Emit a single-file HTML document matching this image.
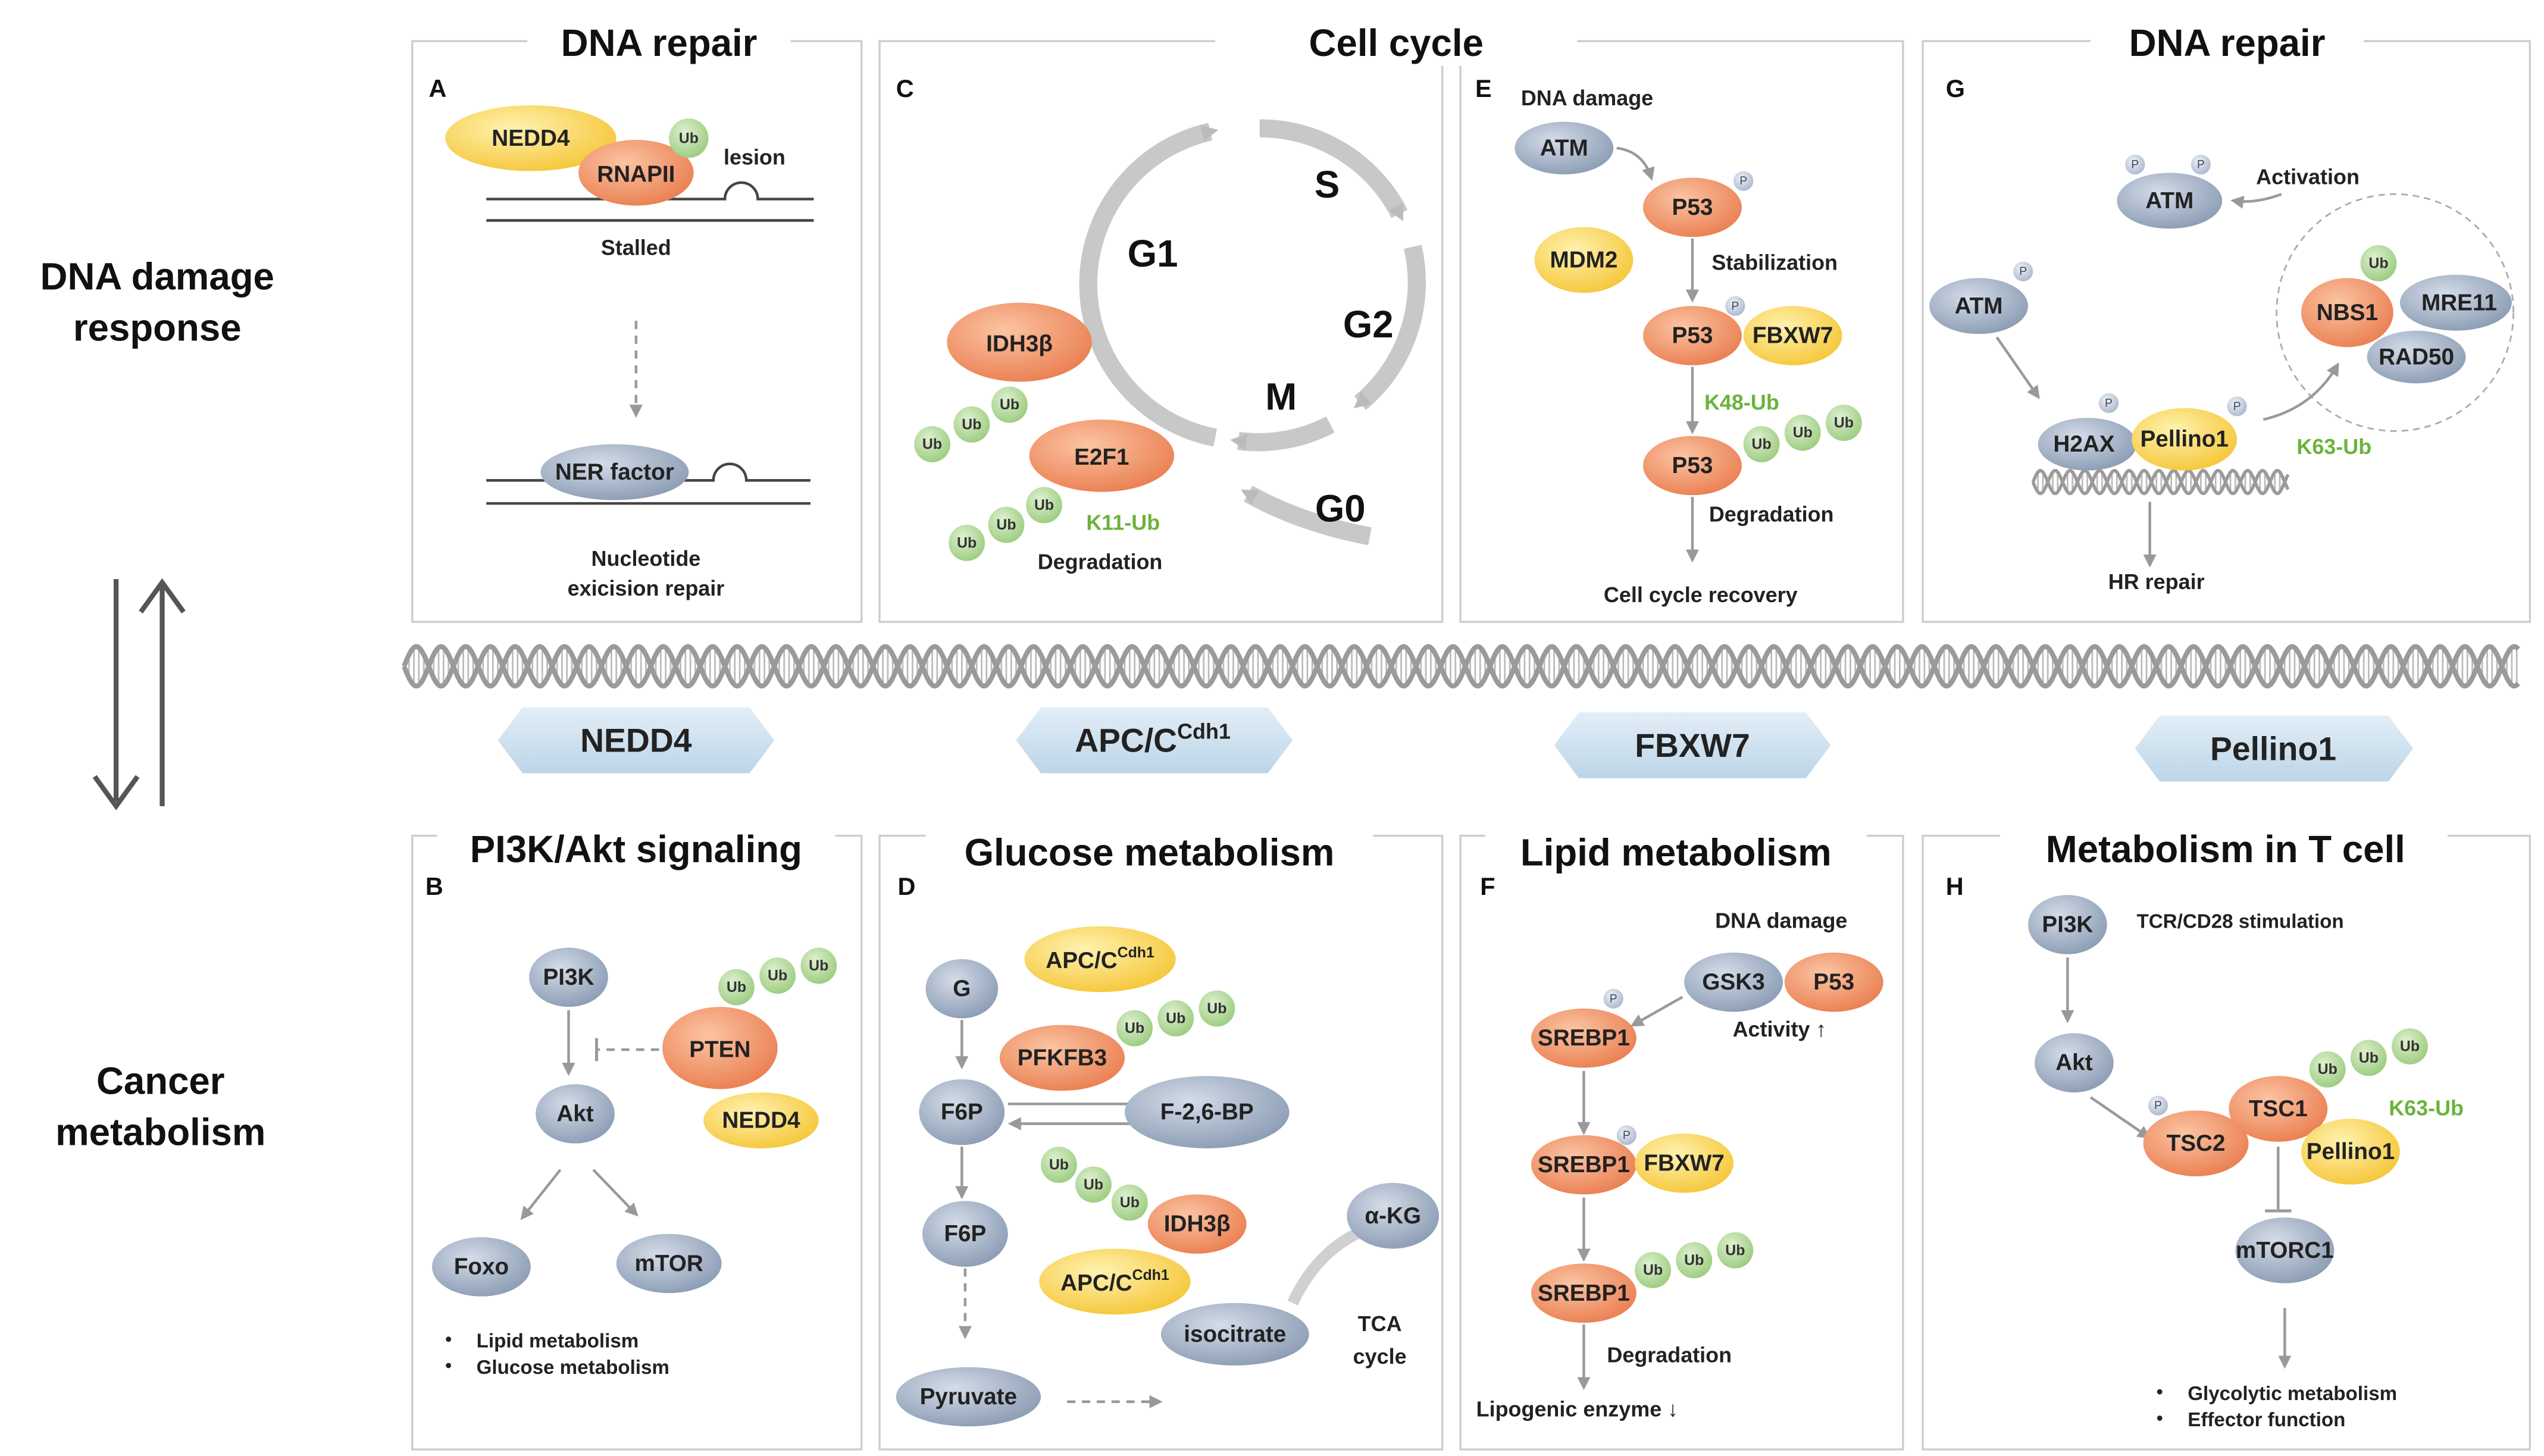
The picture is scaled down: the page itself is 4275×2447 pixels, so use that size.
<!DOCTYPE html>
<html><head><meta charset="utf-8">
<style>
html,body{margin:0;padding:0;background:#fff;}
svg{display:block;}
text{font-family:"Liberation Sans","DejaVu Sans",sans-serif;}
.t{font-size:23px;font-weight:bold;fill:#111;text-anchor:middle;}
.L{font-size:15px;font-weight:bold;fill:#111;}
.n{font-size:14px;font-weight:bold;fill:#222;text-anchor:middle;dominant-baseline:central;}
.s{font-size:13px;font-weight:bold;fill:#222;text-anchor:middle;}
.st{font-size:12px;font-weight:bold;fill:#222;text-anchor:start;}
.u{font-size:9px;font-weight:bold;fill:#333;text-anchor:middle;dominant-baseline:central;}
.g{font-size:13px;font-weight:bold;fill:#6bb33c;text-anchor:middle;}
.p{font-size:7px;fill:#445;text-anchor:middle;dominant-baseline:central;}
.box{fill:#fff;stroke:#ccc;stroke-width:1.2;}
.ar{stroke:#999;stroke-width:1.6;fill:none;marker-end:url(#ah);}
.da{stroke:#999;stroke-width:1.6;fill:none;stroke-dasharray:5 4;marker-end:url(#ah);}
</style></head><body>
<svg width="4275" height="2447" viewBox="0 0 1545 885" xmlns="http://www.w3.org/2000/svg">
<defs>
<radialGradient id="gb" cx="40%" cy="35%" r="70%"><stop offset="0" stop-color="#d4dce8"/><stop offset="1" stop-color="#8a9bb3"/></radialGradient>
<radialGradient id="go" cx="40%" cy="35%" r="70%"><stop offset="0" stop-color="#fbc4a3"/><stop offset="1" stop-color="#ea7e50"/></radialGradient>
<radialGradient id="gy" cx="40%" cy="35%" r="70%"><stop offset="0" stop-color="#fff2b0"/><stop offset="1" stop-color="#f5c637"/></radialGradient>
<radialGradient id="gg" cx="40%" cy="35%" r="70%"><stop offset="0" stop-color="#dff0d0"/><stop offset="1" stop-color="#9acb7d"/></radialGradient>
<radialGradient id="gp" cx="40%" cy="35%" r="70%"><stop offset="0" stop-color="#eef2f8"/><stop offset="1" stop-color="#a9b6cc"/></radialGradient>
<linearGradient id="hx" x1="0" y1="0" x2="0" y2="1"><stop offset="0" stop-color="#e3eef7"/><stop offset="1" stop-color="#bcd5e8"/></linearGradient>
<marker id="ah" markerWidth="8" markerHeight="8" refX="6" refY="4" orient="auto" markerUnits="userSpaceOnUse"><path d="M0,0 L8,4 L0,8 z" fill="#999"/></marker>
<marker id="bh" markerWidth="10" markerHeight="10" refX="5" refY="5" orient="auto" markerUnits="userSpaceOnUse"><path d="M0,0 L10,5 L0,10 z" fill="#bbb"/></marker>
</defs>

<text class="t" x="95" y="176">DNA damage</text>
<text class="t" x="95" y="207">response</text>
<text class="t" x="97" y="665">Cancer</text>
<text class="t" x="97" y="696">metabolism</text>
<line x1="70" y1="352" x2="70" y2="487" stroke="#555" stroke-width="3"/>
<path d="M57,472 L70,490 L83,472" stroke="#555" stroke-width="3" fill="none"/>
<line x1="98" y1="355" x2="98" y2="490" stroke="#555" stroke-width="3"/>
<path d="M85,372 L98,354 L111,372" stroke="#555" stroke-width="3" fill="none"/>

<rect class="box" x="250" y="25" width="273" height="353"/>
<rect class="box" x="534" y="25" width="342" height="353"/>
<rect class="box" x="887" y="25" width="269" height="353"/>
<rect class="box" x="1168" y="25" width="369" height="353"/>
<rect class="box" x="250" y="508" width="273" height="373"/>
<rect class="box" x="534" y="508" width="342" height="373"/>
<rect class="box" x="887" y="508" width="269" height="373"/>
<rect class="box" x="1168" y="508" width="369" height="373"/>
<rect x="320" y="8" width="160" height="32" fill="#fff"/>
<rect x="738" y="8" width="220" height="32" fill="#fff"/>
<rect x="1270" y="8" width="166" height="32" fill="#fff"/>
<rect x="265" y="498" width="242" height="32" fill="#fff"/>
<rect x="562" y="500" width="272" height="32" fill="#fff"/>
<rect x="902" y="500" width="232" height="32" fill="#fff"/>
<rect x="1215" y="498" width="272" height="32" fill="#fff"/>
<text class="t" x="400" y="34">DNA repair</text>
<text class="t" x="848" y="34">Cell cycle</text>
<text class="t" x="1353" y="34">DNA repair</text>
<text class="t" x="386" y="524">PI3K/Akt signaling</text>
<text class="t" x="698" y="526">Glucose metabolism</text>
<text class="t" x="1018" y="526">Lipid metabolism</text>
<text class="t" x="1352" y="524">Metabolism in T cell</text>
<text class="L" x="260" y="59">A</text><text class="L" x="544" y="59">C</text>
<text class="L" x="896" y="59">E</text><text class="L" x="1182" y="59">G</text>
<text class="L" x="258" y="544">B</text><text class="L" x="545" y="544">D</text>
<text class="L" x="899" y="544">F</text><text class="L" x="1182" y="544">H</text>

<g id="helix"></g>

<g font-weight="bold" font-size="20">
<polygon points="302,450 317,430 455,430 470,450 455,470 317,470" fill="url(#hx)"/>
<text x="386" y="457" text-anchor="middle" fill="#222">NEDD4</text>
<polygon points="617,450 632,430 770,430 785,450 770,470 632,470" fill="url(#hx)"/>
<text x="700" y="457" text-anchor="middle" fill="#222">APC/C<tspan font-size="13" dy="-8">Cdh1</tspan></text>
<polygon points="944,453 959,433 1097,433 1112,453 1097,473 959,473" fill="url(#hx)"/>
<text x="1028" y="460" text-anchor="middle" fill="#222">FBXW7</text>
<polygon points="1297,455 1312,435 1451,435 1466,455 1451,475 1312,475" fill="url(#hx)"/>
<text x="1381" y="462" text-anchor="middle" fill="#222">Pellino1</text>
</g>

<!-- Panel A -->
<path d="M295,121 L440,121 A10,10 0 0 1 460,121 L494,121" stroke="#444" stroke-width="1.6" fill="none"/>
<line x1="295" y1="134" x2="494" y2="134" stroke="#444" stroke-width="1.6"/>
<ellipse cx="322" cy="84" rx="52" ry="20" fill="url(#gy)"/><text class="n" x="322" y="84" font-size="15">NEDD4</text>
<ellipse cx="386" cy="105" rx="35" ry="20" fill="url(#go)"/><text class="n" x="386" y="106" font-size="13">RNAPII</text>
<circle cx="418" cy="84" r="12" fill="url(#gg)"/><text class="u" x="418" y="84">Ub</text>
<text class="s" x="458" y="100">lesion</text>
<text class="s" x="386" y="155">Stalled</text>
<line class="da" x1="386" y1="195" x2="386" y2="252"/>
<path d="M295,292 L433,292 A10,10 0 0 1 453,292 L492,292" stroke="#444" stroke-width="1.6" fill="none"/>
<line x1="295" y1="306" x2="492" y2="306" stroke="#444" stroke-width="1.6"/>
<ellipse cx="373" cy="287" rx="45" ry="17" fill="url(#gb)"/><text class="n" x="373" y="287">NER factor</text>
<text class="s" x="392" y="344" font-size="14">Nucleotide</text>
<text class="s" x="392" y="362" font-size="14">exicision repair</text>

<!-- Panel C -->
<g stroke="#c8c8c8" stroke-width="11" fill="none">
<path d="M738,266 A95,95 0 0 1 735,80" marker-end="url(#bh)"/>
<path d="M765,78 A95,95 0 0 1 850,130" marker-end="url(#bh)"/>
<path d="M858,150 A95,95 0 0 1 826,245" marker-end="url(#bh)"/>
<path d="M808,258 A95,95 0 0 1 752,268" marker-end="url(#bh)"/>
<path d="M832,326 Q790,318 758,300" marker-end="url(#bh)"/>
</g>
<text class="t" x="700" y="162" font-size="17">G1</text>
<text class="t" x="806" y="120" font-size="17">S</text>
<text class="t" x="831" y="205" font-size="17">G2</text>
<text class="t" x="778" y="249" font-size="17">M</text>
<text class="t" x="814" y="317" font-size="17">G0</text>
<ellipse cx="619" cy="208" rx="44" ry="24" fill="url(#go)"/><text class="n" x="619" y="209" font-size="16">IDH3β</text>
<ellipse cx="669" cy="277" rx="44" ry="22" fill="url(#go)"/><text class="n" x="669" y="278" font-size="15">E2F1</text>
<circle cx="566" cy="270" r="11" fill="url(#gg)"/><text class="u" x="566" y="270">Ub</text>
<circle cx="590" cy="258" r="11" fill="url(#gg)"/><text class="u" x="590" y="258">Ub</text>
<circle cx="613" cy="246" r="11" fill="url(#gg)"/><text class="u" x="613" y="246">Ub</text>
<circle cx="587" cy="330" r="11" fill="url(#gg)"/><text class="u" x="587" y="330">Ub</text>
<circle cx="611" cy="319" r="11" fill="url(#gg)"/><text class="u" x="611" y="319">Ub</text>
<circle cx="634" cy="307" r="11" fill="url(#gg)"/><text class="u" x="634" y="307">Ub</text>
<text class="g" x="682" y="322">K11-Ub</text>
<text class="s" x="668" y="346">Degradation</text>

<!-- Panel E -->
<text class="s" x="964" y="64">DNA damage</text>
<ellipse cx="950" cy="90" rx="30" ry="16" fill="url(#gb)"/><text class="n" x="950" y="90" font-size="13">ATM</text>
<path class="ar" d="M982,90 Q998,92 1003,108"/>
<ellipse cx="1028" cy="126" rx="30" ry="18" fill="url(#go)"/><text class="n" x="1028" y="126" font-size="13">P53</text>
<circle cx="1059" cy="110" r="6" fill="url(#gp)"/><text class="p" x="1059" y="110">P</text>
<ellipse cx="962" cy="158" rx="30" ry="20" fill="url(#gy)"/><text class="n" x="962" y="158" font-size="13">MDM2</text>
<line class="ar" x1="1028" y1="145" x2="1028" y2="182"/>
<text class="s" x="1078" y="164">Stabilization</text>
<ellipse cx="1028" cy="204" rx="30" ry="18" fill="url(#go)"/><text class="n" x="1028" y="204" font-size="13">P53</text>
<circle cx="1054" cy="186" r="6" fill="url(#gp)"/><text class="p" x="1054" y="186">P</text>
<ellipse cx="1089" cy="204" rx="30" ry="18" fill="url(#gy)"/><text class="n" x="1089" y="204" font-size="13">FBXW7</text>
<line class="ar" x1="1028" y1="223" x2="1028" y2="262"/>
<text class="g" x="1058" y="249">K48-Ub</text>
<ellipse cx="1028" cy="283" rx="30" ry="18" fill="url(#go)"/><text class="n" x="1028" y="283" font-size="13">P53</text>
<circle cx="1070" cy="270" r="11" fill="url(#gg)"/><text class="u" x="1070" y="270">Ub</text>
<circle cx="1095" cy="263" r="11" fill="url(#gg)"/><text class="u" x="1095" y="263">Ub</text>
<circle cx="1120" cy="257" r="11" fill="url(#gg)"/><text class="u" x="1120" y="257">Ub</text>
<text class="s" x="1076" y="317">Degradation</text>
<line class="ar" x1="1028" y1="302" x2="1028" y2="340"/>
<text class="s" x="1033" y="366">Cell cycle recovery</text>

<!-- Panel G -->
<ellipse cx="1318" cy="122" rx="32" ry="17" fill="url(#gb)"/><text class="n" x="1318" y="122" font-size="13">ATM</text>
<circle cx="1297" cy="100" r="6" fill="url(#gp)"/><text class="p" x="1297" y="100">P</text>
<circle cx="1337" cy="100" r="6" fill="url(#gp)"/><text class="p" x="1337" y="100">P</text>
<text class="s" x="1402" y="112">Activation</text>
<path class="ar" d="M1386,118 Q1370,124 1357,122"/>
<circle cx="1455" cy="190" r="72" fill="none" stroke="#aaa" stroke-dasharray="4 3"/>
<circle cx="1445" cy="160" r="11" fill="url(#gg)"/><text class="u" x="1445" y="160">Ub</text>
<ellipse cx="1492" cy="184" rx="34" ry="17" fill="url(#gb)"/><text class="n" x="1494" y="184" font-size="12">MRE11</text>
<ellipse cx="1468" cy="217" rx="30" ry="16" fill="url(#gb)"/><text class="n" x="1468" y="217" font-size="12">RAD50</text>
<ellipse cx="1426" cy="190" rx="28" ry="21" fill="url(#go)"/><text class="n" x="1426" y="190" font-size="13">NBS1</text>
<ellipse cx="1202" cy="186" rx="30" ry="17" fill="url(#gb)"/><text class="n" x="1202" y="186" font-size="13">ATM</text>
<circle cx="1229" cy="165" r="6" fill="url(#gp)"/><text class="p" x="1229" y="165">P</text>
<line class="ar" x1="1213" y1="205" x2="1238" y2="241"/>
<g id="helix2"></g>
<ellipse cx="1268" cy="270" rx="30" ry="16" fill="url(#gb)"/><text class="n" x="1266" y="270" font-size="12">H2AX</text>
<circle cx="1281" cy="245" r="6" fill="url(#gp)"/><text class="p" x="1281" y="245">P</text>
<ellipse cx="1327" cy="267" rx="32" ry="19" fill="url(#gy)"/><text class="n" x="1327" y="267" font-size="13">Pellino1</text>
<circle cx="1359" cy="247" r="6" fill="url(#gp)"/><text class="p" x="1359" y="247">P</text>
<path class="ar" d="M1375,255 Q1405,248 1420,222"/>
<text class="g" x="1418" y="276">K63-Ub</text>
<line class="ar" x1="1306" y1="305" x2="1306" y2="343"/>
<text class="s" x="1310" y="358">HR repair</text>

<!-- Panel B -->
<ellipse cx="345" cy="594" rx="24" ry="18" fill="url(#gb)"/><text class="n" x="345" y="594" font-size="13">PI3K</text>
<line class="ar" x1="345" y1="614" x2="345" y2="652"/>
<ellipse cx="349" cy="677" rx="24" ry="18" fill="url(#gb)"/><text class="n" x="349" y="677" font-size="13">Akt</text>
<line x1="400" y1="638" x2="363" y2="638" stroke="#999" stroke-width="1.6" stroke-dasharray="5 4"/>
<line x1="362" y1="631" x2="362" y2="645" stroke="#999" stroke-width="1.8"/>
<circle cx="447" cy="600" r="11" fill="url(#gg)"/><text class="u" x="447" y="600">Ub</text>
<circle cx="472" cy="593" r="11" fill="url(#gg)"/><text class="u" x="472" y="593">Ub</text>
<circle cx="497" cy="587" r="11" fill="url(#gg)"/><text class="u" x="497" y="587">Ub</text>
<ellipse cx="462" cy="681" rx="35" ry="17" fill="url(#gy)"/><text class="n" x="462" y="681" font-size="13">NEDD4</text>
<ellipse cx="437" cy="637" rx="35" ry="25" fill="url(#go)"/><text class="n" x="437" y="638" font-size="15">PTEN</text>
<line class="ar" x1="340" y1="711" x2="317" y2="740"/>
<line class="ar" x1="360" y1="711" x2="386" y2="738"/>
<ellipse cx="292" cy="770" rx="30" ry="18" fill="url(#gb)"/><text class="n" x="292" y="770" font-size="13">Foxo</text>
<ellipse cx="406" cy="768" rx="32" ry="18" fill="url(#gb)"/><text class="n" x="406" y="768" font-size="13">mTOR</text>
<circle cx="272" cy="814" r="1.6" fill="#222"/><text class="st" x="289" y="819">Lipid metabolism</text>
<circle cx="272" cy="830" r="1.6" fill="#222"/><text class="st" x="289" y="835">Glucose metabolism</text>

<!-- Panel D -->
<ellipse cx="584" cy="601" rx="22" ry="18" fill="url(#gb)"/><text class="n" x="584" y="601" font-size="13">G</text>
<line class="ar" x1="584" y1="620" x2="584" y2="648"/>
<ellipse cx="668" cy="583" rx="46" ry="20" fill="url(#gy)"/><text class="n" x="668" y="584" font-size="14">APC/C<tspan font-size="9" dy="-5">Cdh1</tspan></text>
<circle cx="689" cy="625" r="11" fill="url(#gg)"/><text class="u" x="689" y="625">Ub</text>
<circle cx="714" cy="619" r="11" fill="url(#gg)"/><text class="u" x="714" y="619">Ub</text>
<circle cx="739" cy="613" r="11" fill="url(#gg)"/><text class="u" x="739" y="613">Ub</text>
<ellipse cx="645" cy="643" rx="38" ry="20" fill="url(#go)"/><text class="n" x="645" y="643" font-size="13">PFKFB3</text>
<ellipse cx="584" cy="676" rx="26" ry="20" fill="url(#gb)"/><text class="n" x="584" y="676" font-size="13">F6P</text>
<line class="ar" x1="612" y1="671" x2="698" y2="671"/>
<line class="ar" x1="700" y1="683" x2="614" y2="683"/>
<ellipse cx="733" cy="676" rx="50" ry="22" fill="url(#gb)"/><text class="n" x="733" y="676" font-size="15">F-2,6-BP</text>
<line class="ar" x1="584" y1="697" x2="584" y2="727"/>
<ellipse cx="586" cy="750" rx="26" ry="20" fill="url(#gb)"/><text class="n" x="586" y="750" font-size="13">F6P</text>
<line class="da" x1="586" y1="771" x2="586" y2="812"/>
<ellipse cx="588" cy="849" rx="44" ry="18" fill="url(#gb)"/><text class="n" x="588" y="849" font-size="14">Pyruvate</text>
<line class="da" x1="648" y1="852" x2="704" y2="852"/>
<circle cx="643" cy="708" r="11" fill="url(#gg)"/><text class="u" x="643" y="708">Ub</text>
<circle cx="664" cy="720" r="11" fill="url(#gg)"/><text class="u" x="664" y="720">Ub</text>
<circle cx="686" cy="731" r="11" fill="url(#gg)"/><text class="u" x="686" y="731">Ub</text>
<ellipse cx="727" cy="744" rx="30" ry="18" fill="url(#go)"/><text class="n" x="727" y="744" font-size="13">IDH3β</text>
<ellipse cx="677" cy="779" rx="46" ry="20" fill="url(#gy)"/><text class="n" x="677" y="780" font-size="14">APC/C<tspan font-size="9" dy="-5">Cdh1</tspan></text>
<path d="M785,792 Q800,760 828,748" stroke="#d0d0d0" stroke-width="7" fill="none"/>
<ellipse cx="750" cy="811" rx="45" ry="19" fill="url(#gb)"/><text class="n" x="750" y="811" font-size="14">isocitrate</text>
<ellipse cx="846" cy="739" rx="28" ry="20" fill="url(#gb)"/><text class="n" x="846" y="739" font-size="14">α-KG</text>
<text class="s" x="838" y="809" font-size="15">TCA</text>
<text class="s" x="838" y="829" font-size="15">cycle</text>

<!-- Panel F -->
<text class="s" x="1082" y="564">DNA damage</text>
<ellipse cx="1053" cy="597" rx="30" ry="18" fill="url(#gb)"/><text class="n" x="1053" y="597" font-size="12">GSK3</text>
<ellipse cx="1114" cy="597" rx="30" ry="18" fill="url(#go)"/><text class="n" x="1114" y="597" font-size="13">P53</text>
<text class="s" x="1081" y="630">Activity ↑</text>
<line class="ar" x1="1022" y1="606" x2="992" y2="623"/>
<ellipse cx="962" cy="631" rx="32" ry="18" fill="url(#go)"/><text class="n" x="962" y="631" font-size="12">SREBP1</text>
<circle cx="980" cy="607" r="6" fill="url(#gp)"/><text class="p" x="980" y="607">P</text>
<line class="ar" x1="962" y1="651" x2="962" y2="688"/>
<ellipse cx="962" cy="708" rx="32" ry="18" fill="url(#go)"/><text class="n" x="962" y="708" font-size="12">SREBP1</text>
<circle cx="988" cy="690" r="6" fill="url(#gp)"/><text class="p" x="988" y="690">P</text>
<ellipse cx="1023" cy="707" rx="30" ry="18" fill="url(#gy)"/><text class="n" x="1023" y="707" font-size="13">FBXW7</text>
<line class="ar" x1="962" y1="728" x2="962" y2="765"/>
<ellipse cx="962" cy="786" rx="32" ry="18" fill="url(#go)"/><text class="n" x="962" y="786" font-size="12">SREBP1</text>
<circle cx="1004" cy="772" r="11" fill="url(#gg)"/><text class="u" x="1004" y="772">Ub</text>
<circle cx="1029" cy="766" r="11" fill="url(#gg)"/><text class="u" x="1029" y="766">Ub</text>
<circle cx="1054" cy="760" r="11" fill="url(#gg)"/><text class="u" x="1054" y="760">Ub</text>
<text class="s" x="1014" y="828">Degradation</text>
<line class="ar" x1="962" y1="805" x2="962" y2="843"/>
<text class="s" x="958" y="861">Lipogenic enzyme ↓</text>

<!-- Panel H -->
<ellipse cx="1256" cy="562" rx="24" ry="18" fill="url(#gb)"/><text class="n" x="1256" y="562" font-size="13">PI3K</text>
<text class="st" x="1298" y="564">TCR/CD28 stimulation</text>
<line class="ar" x1="1256" y1="582" x2="1256" y2="620"/>
<ellipse cx="1260" cy="646" rx="24" ry="18" fill="url(#gb)"/><text class="n" x="1260" y="646" font-size="13">Akt</text>
<line class="ar" x1="1270" y1="667" x2="1305" y2="691"/>
<line x1="1384" y1="697" x2="1384" y2="735" stroke="#999" stroke-width="1.6"/>
<line x1="1376" y1="736" x2="1392" y2="736" stroke="#999" stroke-width="1.8"/>
<ellipse cx="1334" cy="695" rx="32" ry="20" fill="url(#go)"/><text class="n" x="1334" y="695" font-size="13">TSC2</text>
<circle cx="1311" cy="672" r="6" fill="url(#gp)"/><text class="p" x="1311" y="672">P</text>
<circle cx="1414" cy="650" r="11" fill="url(#gg)"/><text class="u" x="1414" y="650">Ub</text>
<circle cx="1439" cy="643" r="11" fill="url(#gg)"/><text class="u" x="1439" y="643">Ub</text>
<circle cx="1464" cy="636" r="11" fill="url(#gg)"/><text class="u" x="1464" y="636">Ub</text>
<ellipse cx="1384" cy="674" rx="30" ry="20" fill="url(#go)"/><text class="n" x="1384" y="674" font-size="13">TSC1</text>
<ellipse cx="1428" cy="700" rx="30" ry="20" fill="url(#gy)"/><text class="n" x="1428" y="700" font-size="13">Pellino1</text>
<text class="g" x="1474" y="678">K63-Ub</text>
<ellipse cx="1388" cy="760" rx="30" ry="20" fill="url(#gb)"/><text class="n" x="1388" y="760" font-size="12">mTORC1</text>
<line class="ar" x1="1388" y1="795" x2="1388" y2="830"/>
<circle cx="1312" cy="846" r="1.6" fill="#222"/><text class="st" x="1329" y="851">Glycolytic metabolism</text>
<circle cx="1312" cy="862" r="1.6" fill="#222"/><text class="st" x="1329" y="867">Effector function</text>
</svg>
<script>
function helix(id,x0,x1,cy,amp,per,sw,col){
  var g=document.getElementById(id),s="";
  var d1="",d2="";
  for(var x=x0;x<=x1;x+=1){
    var a=Math.sin((x-x0)/per*2*Math.PI)*amp;
    d1+=(x==x0?"M":"L")+x+","+(cy+a);
    d2+=(x==x0?"M":"L")+x+","+(cy-a);
  }
  for(var x=x0;x<=x1;x+=3){
    var a=Math.sin((x-x0)/per*2*Math.PI)*amp;
    s+='<line x1="'+x+'" y1="'+(cy-a)+'" x2="'+x+'" y2="'+(cy+a)+'" stroke="#bbb" stroke-width="1"/>';
  }
  s+='<path d="'+d1+'" stroke="'+col+'" stroke-width="'+sw+'" fill="none"/>';
  s+='<path d="'+d2+'" stroke="'+col+'" stroke-width="'+sw+'" fill="none"/>';
  g.innerHTML=s;
}
helix("helix",245,1530,405,12,30,3,"#9a9a9a");
helix("helix2",1235,1390,293,7,18,2,"#9a9a9a");
</script>
</body></html>
